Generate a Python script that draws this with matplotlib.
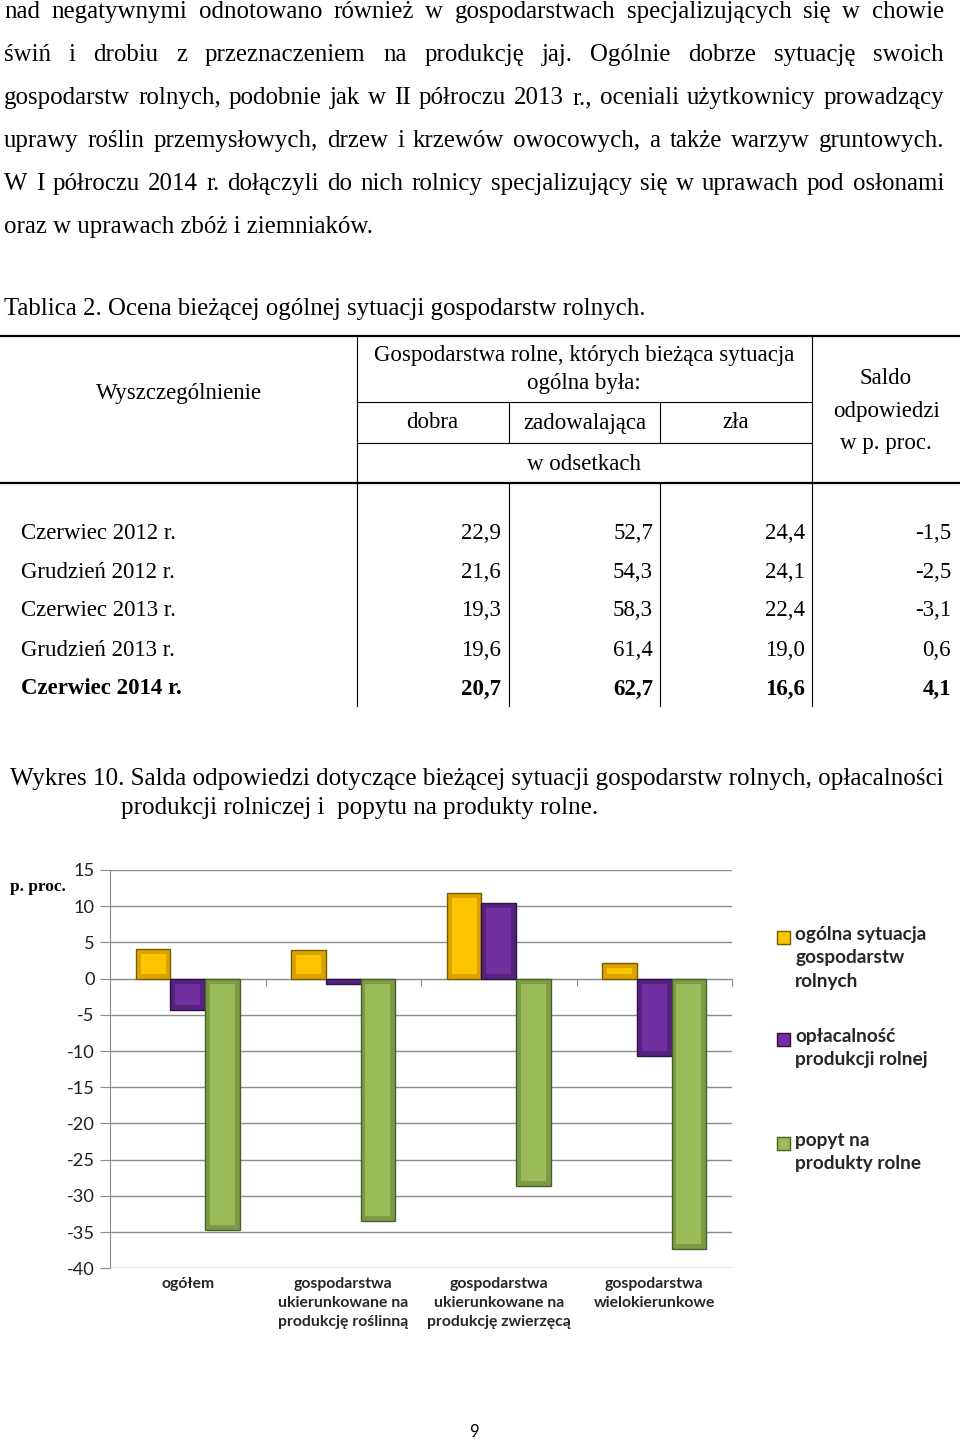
import matplotlib
matplotlib.use("Agg")
import matplotlib.pyplot as plt
from matplotlib.lines import Line2D
import numpy as np

W, H = 960, 1442

# ---- text content ----
para_lines = [
    "nad negatywnymi odnotowano również w gospodarstwach specjalizujących się w chowie",
    "świń i drobiu z przeznaczeniem na produkcję jaj. Ogólnie dobrze sytuację swoich",
    "gospodarstw rolnych, podobnie jak w II półroczu 2013 r., oceniali użytkownicy prowadzący",
    "uprawy roślin przemysłowych, drzew i krzewów owocowych, a także warzyw gruntowych.",
    "W I półroczu 2014 r. dołączyli do nich rolnicy specjalizujący się w uprawach pod osłonami",
    "oraz w uprawach zbóż i ziemniaków.",
]
table_title = "Tablica 2. Ocena bieżącej ogólnej sytuacji gospodarstw rolnych."

# ---- table data ----
row_labels = ["Czerwiec 2012 r.", "Grudzień 2012 r.", "Czerwiec 2013 r.",
              "Grudzień 2013 r.", "Czerwiec 2014 r."]
dobra = ["22,9", "21,6", "19,3", "19,6", "20,7"]
zadowalajaca = ["52,7", "54,3", "58,3", "61,4", "62,7"]
zla = ["24,4", "24,1", "22,4", "19,0", "16,6"]
saldo = ["-1,5", "-2,5", "-3,1", "0,6", "4,1"]

# ---- chart data ----
chart_title = ["Wykres 10. Salda odpowiedzi dotyczące bieżącej sytuacji gospodarstw rolnych, opłacalności",
               "produkcji rolniczej i  popytu na produkty rolne."]
categories = ["ogółem", "gospodarstwa\nukierunkowane na\nprodukcję roślinną",
              "gospodarstwa\nukierunkowane na\nprodukcję zwierzęcą",
              "gospodarstwa\nwielokierunkowe"]
series_names = ["ogólna sytuacja\ngospodarstw\nrolnych", "opłacalność\nprodukcji rolnej",
                "popyt na\nprodukty rolne"]
sytuacja = [4.1, 4.0, 11.8, 2.1]
oplacalnosc = [-4.3, -0.8, 10.4, -10.7]
popyt = [-34.7, -33.5, -28.7, -37.3]
yticks = [15, 10, 5, 0, -5, -10, -15, -20, -25, -30, -35, -40]

colors = ["#FFC400", "#7030A0", "#9BBB59"]
bevels = ["#D9A300", "#55227D", "#7E9A45"]
edges = ["#7A5C00", "#2E1045", "#48602A"]

SERIF = "Liberation Serif"
SANS = "Lato"

fig = plt.figure(figsize=(W / 100, H / 100), dpi=100)
renderer = fig.canvas.get_renderer()


def fx(x):
    return x / W


def fy(y):
    return 1 - y / H


def width_of(s, fs, **kw):
    t = fig.text(0, 0, s, fontsize=fs, **kw)
    w = t.get_window_extent(renderer).width
    t.remove()
    return w


def fit(s, target, **kw):
    return 20 * target / width_of(s, 20, **kw)


def put(x, y, s, fs, ha="left", **kw):
    return fig.text(fx(x), fy(y), s, fontsize=fs, ha=ha, va="center", **kw)


# ---- paragraph, justified ----
body_fs = fit(para_lines[-1], 368, family=SERIF)
x0, x1 = 4, 944
for i, line in enumerate(para_lines):
    y = 12 + 43 * i
    words = line.split(" ")
    if i == len(para_lines) - 1:
        put(x0, y, line, body_fs, family=SERIF)
        continue
    ws = [width_of(w, body_fs, family=SERIF) for w in words]
    gap = (x1 - x0 - sum(ws)) / (len(words) - 1)
    x = x0
    for w, wd in zip(words, ws):
        put(x, y, w, body_fs, family=SERIF)
        x += wd + gap

put(4, 309, table_title, body_fs, family=SERIF)

# ---- table ----
tab_fs = fit(row_labels[0], 156, family=SERIF)


def hline(y, xa, xb, lw=1.0):
    fig.add_artist(Line2D([fx(xa), fx(xb)], [fy(y), fy(y)], color="black", lw=lw))


def vline(x, ya, yb, lw=0.8):
    fig.add_artist(Line2D([fx(x), fx(x)], [fy(ya), fy(yb)], color="black", lw=lw))


hline(336, 0, 960, 1.6)
hline(483, 0, 960, 1.6)
hline(402, 357, 812, 0.8)
hline(443, 357, 812, 0.8)
vline(357, 336, 706)
vline(812, 336, 706)
for xv in (509, 660):
    vline(xv, 402, 443)
    vline(xv, 483, 706)

put(179, 394, "Wyszczególnienie", tab_fs, ha="center", family=SERIF)
put(584, 356, "Gospodarstwa rolne, których bieżąca sytuacja", tab_fs, ha="center", family=SERIF)
put(584, 383, "ogólna była:", tab_fs, ha="center", family=SERIF)
put(432, 423, "dobra", tab_fs, ha="center", family=SERIF)
put(585, 423, "zadowalająca", tab_fs, ha="center", family=SERIF)
put(736, 423, "zła", tab_fs, ha="center", family=SERIF)
put(584, 464, "w odsetkach", tab_fs, ha="center", family=SERIF)
put(886, 378, "Saldo", tab_fs, ha="center", family=SERIF)
put(886, 411, "odpowiedzi", tab_fs, ha="center", family=SERIF)
put(886, 444, "w p. proc.", tab_fs, ha="center", family=SERIF)

for i, lab in enumerate(row_labels):
    y = 533 + 39 * i
    wt = "bold" if i == len(row_labels) - 1 else "normal"
    put(21, y, lab, tab_fs, family=SERIF, weight=wt)
    for xr, col in zip((501, 653, 805, 951), (dobra, zadowalajaca, zla, saldo)):
        put(xr, y, col[i], tab_fs, ha="right", family=SERIF, weight=wt)

# ---- chart caption ----
cap_fs = fit(chart_title[0], 934, family=SERIF)
put(10, 779, chart_title[0], cap_fs, family=SERIF)
put(121, 808, chart_title[1], cap_fs, family=SERIF)

# ---- chart ----
ax = fig.add_axes([110 / W, 1 - 1268.3 / H, 622 / W, 398.3 / H])
xpos = np.arange(len(categories))
bw = 0.222
bev = 0.7  # bevel depth in data units
for k, (vals, c, b, e) in enumerate(zip([sytuacja, oplacalnosc, popyt], colors, bevels, edges)):
    xs = xpos + (k - 1) * bw
    v = np.array(vals)
    # outer (bevel) bar
    ax.bar(xs, v, width=bw, color=b, edgecolor=e, linewidth=1.0, zorder=3,
           label=series_names[k].replace("\n", " "))
    # inner face, shrunk by the bevel
    sgn = np.sign(v)
    inner = np.where(np.abs(v) > 2 * bev, v - 2 * sgn * bev, 0)
    ax.bar(xs, inner, bottom=sgn * bev, width=bw * 0.72, color=c, linewidth=0, zorder=4)

ax.set_xlim(-0.5, len(categories) - 0.5)
ax.set_ylim(-40, 15)
ax.set_yticks(yticks)
tick_fs = fit("-40", 28, family=SANS)
ax.set_yticklabels([str(v) for v in yticks], family=SANS, fontsize=tick_fs, color="#202020")
ax.yaxis.grid(True, color="#8c8c8c", lw=1.0, zorder=0)
ax.tick_params(axis="y", length=7, color="#8c8c8c", pad=4)
for s in ("top", "right"):
    ax.spines[s].set_visible(False)
ax.spines["left"].set_color("#8c8c8c")
ax.spines["bottom"].set_position(("data", 0))
ax.spines["bottom"].set_color("#8c8c8c")
ax.spines["bottom"].set_zorder(2)
ax.set_xticks(list(xpos + 0.5))
ax.set_xticklabels([])
ax.tick_params(axis="x", length=5, color="#8c8c8c", direction="out")

cat_fs = fit("produkcję zwierzęcą", 144, family=SANS, weight="bold")
for x, lab in zip(xpos, categories):
    ax.text(x, -41.2, lab, transform=ax.transData, ha="center", va="top",
            fontsize=cat_fs, family=SANS, weight="bold", color="#262626",
            linespacing=1.45)

put(10, 887, "p. proc.", tab_fs * 0.75, family=SERIF, weight="bold", ha="left")

# ---- legend ----
leg_fs = fit("ogólna sytuacja", 131, family=SANS, weight="bold")
leg_y = [937, 1039, 1143]
for name, c, e, y in zip(series_names, colors, edges, leg_y):
    fig.add_artist(plt.Rectangle((fx(777), fy(y + 6.5)), 13 / W, 13 / H, facecolor=c,
                                 edgecolor=e, lw=1, transform=fig.transFigure))
    fig.text(fx(795), fy(y - 11), name, fontsize=leg_fs, family=SANS, weight="bold",
             color="#262626", ha="left", va="top", linespacing=1.45)

put(474, 1432, "9", 12, ha="center", family=SANS)

fig.savefig("out.png", dpi=100)
